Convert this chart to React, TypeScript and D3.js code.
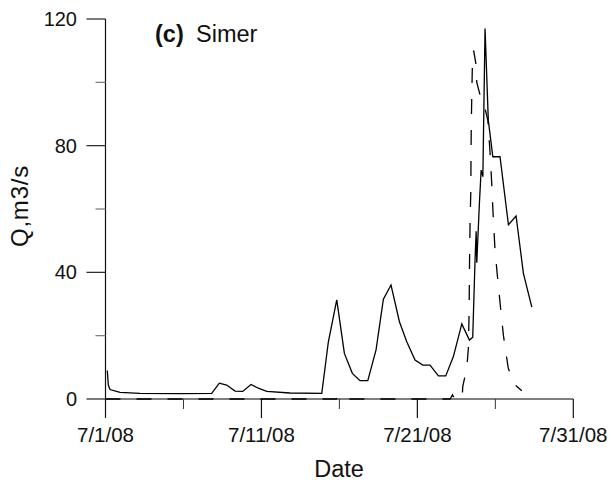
import React from "react";
import * as d3 from "d3";

// Days since 7/1/08 and discharge (m3/s)
const solidDays = [0.115, 0.18, 0.29, 0.93, 2.21, 4.78, 6.81, 7.30, 7.77, 8.31, 8.80, 9.33, 9.80, 10.34, 11.83, 13.87, 14.29, 14.83, 15.32, 15.83, 16.32, 16.82, 17.35, 17.82, 18.31, 18.85, 19.32, 19.85, 20.35, 20.81, 21.35, 21.82, 22.31, 22.85, 23.34, 23.55, 23.70, 23.77, 23.81, 23.98, 24.09, 24.20, 24.34, 24.55, 24.84, 25.30, 25.84, 26.33, 26.80, 27.34];
const solidValues = [9, 4.4, 3, 2.1, 1.8, 1.7, 1.8, 5, 4.4, 2.5, 2.4, 4.6, 3.4, 2.4, 1.9, 1.8, 18, 31.3, 14.4, 8.1, 5.8, 5.8, 15.5, 31.5, 36, 24.4, 18.1, 12.3, 10.7, 10.7, 7.3, 7.3, 13.4, 23.7, 18.6, 19.5, 44, 53, 43, 62, 72.3, 70.2, 117, 88, 76.5, 76.5, 55, 57.8, 39.7, 29];

const dashedDays = [0, 14.8, 15.0, 15.2, 22.1, 22.25, 22.4, 22.87, 22.91, 23.17, 23.27, 23.32, 23.34, 23.38, 23.43, 23.44, 23.46, 23.49, 23.53, 23.61, 23.75, 23.81, 24.02, 24.28, 24.52, 24.66, 24.77, 24.86, 24.98, 25.13, 25.31, 25.52, 25.82, 26.14, 26.70];
const dashedValues = [0, 0, 1.3, 0, 0, 1.3, 0, 0, 3.9, 9.8, 16, 28, 41, 56, 66, 78, 87, 96, 106, 110, 106, 100, 96, 93, 88, 78, 68, 58, 47, 39, 30, 20, 10, 5, 2.6];

const xMajorTicks = [0, 10, 20, 30];
const xMajorLabels = ["7/1/08", "7/11/08", "7/21/08", "7/31/08"];
const xMinorTicks = [5, 15, 25];
const yMajorTicks = [0, 40, 80, 120];
const yMinorTicks = [20, 60, 100];

const FONT = "'Liberation Sans', Arial, sans-serif";

export default function App() {
  const x = d3.scaleLinear().domain([0, 30]).range([105.5, 573.3]);
  const y = d3.scaleLinear().domain([0, 120]).range([399, 19]);

  const solid = solidDays.map((d, i) => [d, solidValues[i]] as [number, number]);
  const dashed = dashedDays.map((d, i) => [d, dashedValues[i]] as [number, number]);
  const line = d3
    .line<[number, number]>()
    .x((d) => x(d[0]))
    .y((d) => y(d[1]));

  return (
    <svg
      width={611}
      height={482}
      style={{ position: "absolute", left: 0, top: 0, background: "#fff" }}
      fontFamily={FONT}
    >
      {/* x axis */}
      <line x1={x(0)} x2={x(30)} y1={y(0)} y2={y(0)} stroke="#555" strokeWidth={1.4} />
      {xMajorTicks.map((t) => (
        <line key={"xm" + t} x1={x(t)} x2={x(t)} y1={y(0)} y2={y(0) + 19} stroke="#111" strokeWidth={1.2} />
      ))}
      {xMinorTicks.map((t) => (
        <line key={"xn" + t} x1={x(t)} x2={x(t)} y1={y(0)} y2={y(0) + 10} stroke="#333" strokeWidth={1} />
      ))}
      {xMajorTicks.map((t, i) => (
        <text key={"xl" + t} x={x(t)} y={441.5} fontSize={20.5} textAnchor="middle" fill="#111">
          {xMajorLabels[i]}
        </text>
      ))}
      <text x={339} y={476.5} fontSize={23.5} textAnchor="middle" fill="#111">
        Date
      </text>

      {/* y axis */}
      <line x1={x(0)} x2={x(0)} y1={y(120)} y2={y(0)} stroke="#111" strokeWidth={1.2} />
      {yMajorTicks.map((t) => (
        <line key={"ym" + t} x1={x(0) - 19} x2={x(0)} y1={y(t)} y2={y(t)} stroke="#222" strokeWidth={1.2} />
      ))}
      {yMinorTicks.map((t) => (
        <line key={"yn" + t} x1={x(0) - 10} x2={x(0)} y1={y(t)} y2={y(t)} stroke="#777" strokeWidth={1.2} />
      ))}
      {yMajorTicks.map((t) => (
        <text key={"yl" + t} x={77} y={y(t) + 7} fontSize={20} textAnchor="end" fill="#111">
          {t}
        </text>
      ))}
      <text
        transform="translate(28,206) rotate(-90)"
        fontSize={24}
        textAnchor="middle"
        fill="#111"
        letterSpacing={0.8}
      >
        Q,m3/s
      </text>

      {/* title */}
      <text x={155} y={42} fontSize={23.5} fontWeight="bold" fill="#111">
        (c)
      </text>
      <text x={196} y={42} fontSize={23.5} fill="#111">
        Simer
      </text>

      {/* series */}
      <path d={line(dashed) || ""} fill="none" stroke="#000" strokeWidth={1.3} strokeDasharray="15,16" />
      <path d={line(solid) || ""} fill="none" stroke="#000" strokeWidth={1.3} strokeLinejoin="miter" />
    </svg>
  );
}
